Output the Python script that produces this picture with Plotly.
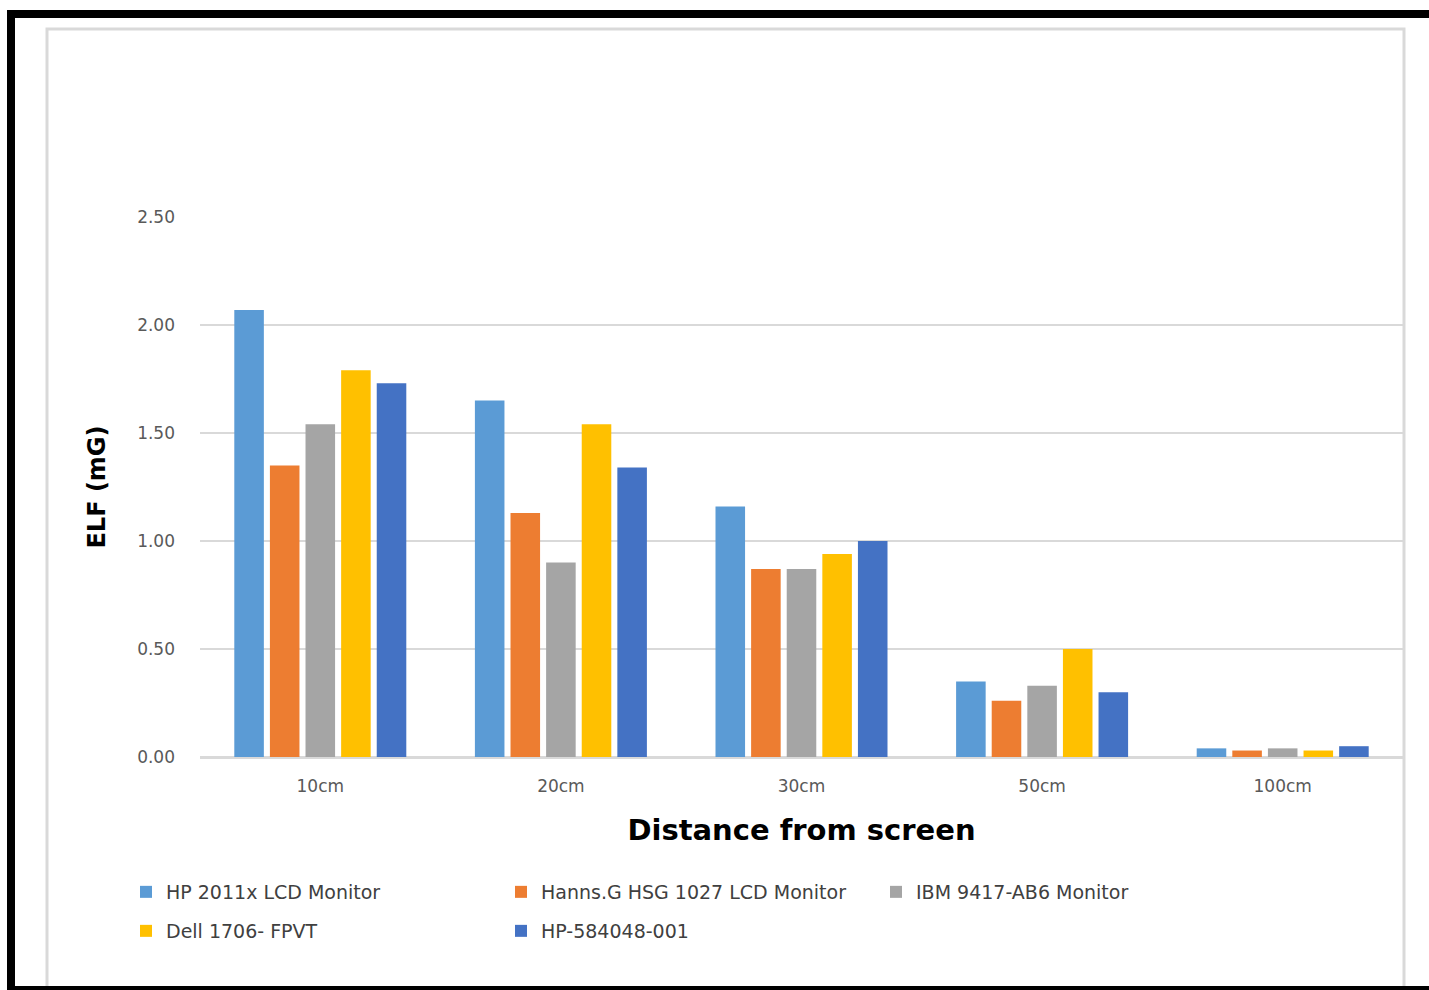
import plotly.graph_objects as go

categories = ["10cm", "20cm", "30cm", "50cm", "100cm"]
series_names = ["HP 2011x LCD Monitor", "Hanns.G HSG 1027 LCD Monitor", "IBM 9417-AB6 Monitor",
                "Dell 1706- FPVT", "HP-584048-001"]
hp2011x = [2.07, 1.65, 1.16, 0.35, 0.04]
hanns = [1.35, 1.13, 0.87, 0.26, 0.03]
ibm = [1.54, 0.90, 0.87, 0.33, 0.04]
dell = [1.79, 1.54, 0.94, 0.50, 0.03]
hp584 = [1.73, 1.34, 1.00, 0.30, 0.05]
colors = ["#5B9BD5", "#ED7D31", "#A5A5A5", "#FFC000", "#4472C4"]
legend_ids = ["legend", "legend", "legend", "legend2", "legend2"]

W, H = 1429, 990
L, R, T, B = 200, 26, 217, 233
pw, ph = W - L - R, H - T - B

def px(x):
    return (x - L) / pw

def py(y):
    return (H - B - y) / ph

fig = go.Figure()
for name, vals, c, lg in zip(series_names, [hp2011x, hanns, ibm, dell, hp584], colors, legend_ids):
    fig.add_trace(go.Bar(name=name, x=categories, y=vals, legend=lg,
                         marker=dict(color=c, line=dict(width=0))))

shapes = [
    dict(type="rect", xref="paper", yref="paper", x0=px(47), x1=px(1404), y0=py(1005), y1=py(29),
         line=dict(color="#D9D9D9", width=3), fillcolor="rgba(0,0,0,0)", layer="below"),
    dict(type="rect", xref="paper", yref="paper", x0=px(7), x1=px(1429), y0=py(18), y1=py(10),
         line=dict(width=0), fillcolor="black"),
    dict(type="rect", xref="paper", yref="paper", x0=px(7), x1=px(15), y0=py(990), y1=py(10),
         line=dict(width=0), fillcolor="black"),
    dict(type="rect", xref="paper", yref="paper", x0=px(7), x1=px(1429), y0=py(990), y1=py(986),
         line=dict(width=0), fillcolor="black"),
]

legend_common = dict(orientation="h", xanchor="left", yanchor="top",
                     entrywidth=330, entrywidthmode="pixels", itemwidth=30,
                     font=dict(size=19, color="#404040", family="DejaVu Sans"),
                     bgcolor="rgba(0,0,0,0)")

fig.update_layout(
    width=W, height=H,
    margin=dict(l=L, r=R, t=T, b=B, pad=0),
    paper_bgcolor="white", plot_bgcolor="white",
    barmode="group", bargap=0.26, bargroupgap=0.17,
    font=dict(family="DejaVu Sans", color="#595959"),
    shapes=shapes,
    showlegend=True,
    legend=dict(x=px(126), y=py(873), **legend_common),
    legend2=dict(x=px(126), y=py(912), **legend_common),
)
fig.update_yaxes(range=[0, 2.5], dtick=0.5, tickformat=".2f", showgrid=True, gridcolor="#D9D9D9",
                 gridwidth=2, zeroline=True, zerolinecolor="#D9D9D9", zerolinewidth=2,
                 showline=False, ticks="", ticklabelstandoff=24,
                 tickfont=dict(size=17, color="#595959"),
                 title=dict(text="<b>ELF (mG)</b>", font=dict(size=24, color="black"), standoff=24))
fig.update_xaxes(showline=True, linecolor="#D9D9D9", linewidth=2, ticks="", ticklabelstandoff=13,
                 tickfont=dict(size=17, color="#595959"),
                 title=dict(text="<b>Distance from screen</b>", font=dict(size=29, color="black"), standoff=24))

fig.write_html("out.html")
